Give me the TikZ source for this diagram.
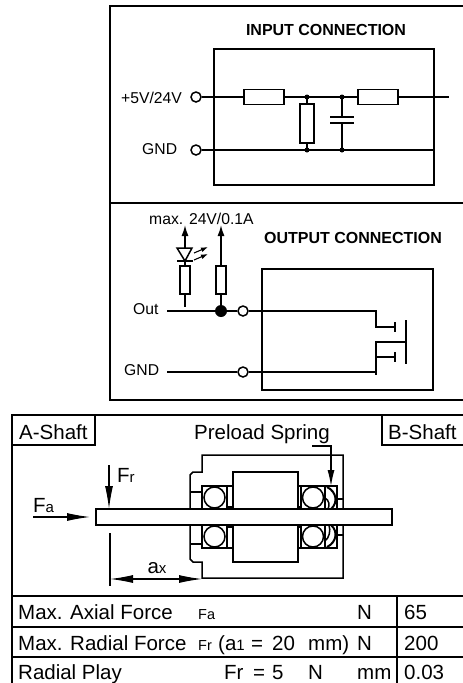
\documentclass[tikz,border=0pt]{standalone}
\usepackage{fontspec}
\setmainfont{Liberation Sans}
\usetikzlibrary{arrows.meta}
\newcommand{\fsz}[1]{\fontsize{#1}{#1}\selectfont}
\newcommand{\ballbearing}[3] % x left, y top, width
{
	% outer box
	\draw[wire] (#1,#2) rectangle (#1+#3,#2+23);
	% ball
	\draw[wire] (#1+0.5*#3,#2+11.5) circle (10.5);
}
\tikzset{
	wire/.style={line width=1.5pt},
	frame/.style={line width=1.9pt},
	thin wire/.style={line width=1.1pt},
	resh/.style={draw, line width=1.5pt, minimum width=40pt, minimum height=15pt, inner sep=0pt},
	resv/.style={draw, line width=1.5pt, minimum width=14pt, minimum height=39pt, inner sep=0pt},
	resn/.style={draw, line width=1.5pt, minimum width=10pt, minimum height=28pt, inner sep=0pt},
	term/.style={circle, draw, fill=white, line width=1.5pt, minimum size=10pt, inner sep=0pt},
	junction/.style={circle, fill=black, minimum size=5pt, inner sep=0pt},
	label/.style={inner sep=0pt, anchor=west, text height=11.2pt, text depth=0pt, font=\fsz{15.7}},
	title/.style={inner sep=0pt, text height=11.5pt, text depth=0pt, font=\fsz{16}\bfseries},
	big/.style={inner sep=0pt, anchor=west, text height=14.7pt, text depth=0pt, font=\fsz{20.5}},
	longhead/.style={-{Latex[length=23pt,width=8pt]}},
	smallhead/.style={-{Latex[length=11pt,width=7pt]}}
}
\begin{document}
\begin{tikzpicture}[x=1pt,y=-1pt]
	\useasboundingbox (0,0) rectangle (463,683);

	% upper panel
	\draw[frame] (463,6) -- (110,6) -- (110,400) -- (463,400);
	\draw[frame] (110,203) -- (463,203);

	% input connection
	\node[title] (intitle) at (326,30) {INPUT CONNECTION};
	\draw[frame] (214,49) rectangle (434,185);
	\node[label] (inlabel) at (121,98) {+5V/24V};
	\node[label] (ingnd) at (142,149) {GND};
	\node[term] (inp) at (196,97) {};
	\node[term] (gndp) at (196,150) {};
	\node[resh] (ra) at (264,97) {};
	\node[resh] (rc) at (378,97) {};
	\node[resv] (rb) at (307,123.5) {};
	\coordinate (ja) at (307,97);
	\coordinate (jb) at (342,97);
	\coordinate (jc) at (307,150);
	\coordinate (jd) at (342,150);
	\coordinate (inend) at (449,97);
	\coordinate (gndend) at (434,150);
	\draw[wire] (inp) -- (ra);
	\draw[wire] (ra) -- (rc);
	\draw[wire] (rc) -- (inend);
	\draw[wire] (gndp) -- (gndend);
	\draw[wire] (ja) -- (rb);
	\draw[wire] (rb) -- (jc);
	\draw[wire] (jb) -- (342,117);
	\draw[wire] (342,123) -- (jd);
	\draw[wire] (330,117) -- (354,117);
	\draw[wire] (330,123) -- (354,123);
	\foreach \j in {ja,jb,jc,jd}
		\node[junction] at (\j) {};

	% output connection
	\node[title] (outtitle) at (353,238) {OUTPUT CONNECTION};
	\node[label] (maxlabel) at (149,219) {max. 24V/0.1A};
	\draw[frame] (262,269) rectangle (433,390);
	\node[label] (outlabel) at (133,309) {Out};
	\node[label] (outgnd) at (124,370) {GND};
	\node[resn] (rled) at (185,280) {};
	\node[resn] (rload) at (221,280) {};
	\node[term] (outp) at (243,311) {};
	\node[term] (gndq) at (243,372) {};
	\node[circle, fill=black, minimum size=12pt, inner sep=0pt] (jout) at (221,311) {};
	\coordinate (outstart) at (167,311);
	\coordinate (gndstart) at (167,372);
	\draw[wire] (outstart) -- (jout);
	\draw[wire] (jout) -- (outp);
	\draw[wire] (outp) -- (376,311) -- (376,327) -- (395,327);
	\draw[wire] (gndstart) -- (gndq);
	\draw[wire] (gndq) -- (376,372);
	\draw[wire] (rload) -- (jout);
	\draw[wire] (rled) -- (185,307);
	\draw[wire, smallhead] (rload) -- (221,225);
	\draw[wire, smallhead] (185,248) -- (185,225);
	% led
	\draw[wire] (177,248) -- (192,248) -- (185,261) -- cycle;
	\draw[wire] (177,261) -- (193,261);
	\draw[wire] (185,261) -- (rled);
	\draw[thin wire, -{Latex[length=7pt,width=5pt]}] (194,253) -- (208,247);
	\draw[thin wire, -{Latex[length=7pt,width=5pt]}] (194,260) -- (208,254);
	% transistor
	\draw[wire] (395,322) -- (395,332);
	\draw[wire] (395,352) -- (395,362);
	\draw[wire] (406,320) -- (406,364);
	\draw[wire] (406,342) -- (376,342) -- (376,375);
	\draw[wire] (376,357) -- (395,357);

	% lower panel
	\draw[frame] (463,415) -- (12,415) -- (12,683);
	\draw[frame] (95,415) -- (95,445) -- (12,445);
	\draw[frame] (382,415) -- (382,445) -- (463,445);
	\node[big] (ashaft) at (19,432) {A-Shaft};
	\node[big] (bshaft) at (388,432) {B-Shaft};
	\node[big] (spring) at (194,432) {Preload Spring};
	\draw[thin wire, -{Latex[length=16pt,width=7pt]}] (312,446) -- (331,446) -- (331,486);

	% housing
	\draw[wire] (343,509) -- (343,455) -- (202,455) -- (202,472) -- (193,472) -- (190,475) -- (190,509);
	\draw[wire] (343,525) -- (343,578) -- (202,578) -- (202,562) -- (193,562) -- (190,559) -- (190,525);
	\draw[wire] (227,507) -- (233,507) -- (233,472) -- (298,472) -- (298,507) -- (301,507);
	\draw[wire] (227,527) -- (233,527) -- (233,562) -- (298,562) -- (298,527) -- (301,527);
	\draw[wire] (190,492) -- (202,492);
	\draw[wire] (190,544) -- (202,544);
	\draw[wire] (337,499) -- (343,499);
	\draw[wire] (337,535) -- (343,535);

	% bearings
	\ballbearing{202}{486}{25}
	\ballbearing{202}{525}{25}
	\ballbearing{301}{486}{24}
	\ballbearing{301}{525}{24}
	\draw[wire] (227,486) -- (233,486);
	\draw[wire] (227,548) -- (233,548);
	\draw[wire] (298,486) -- (301,486);
	\draw[wire] (298,548) -- (301,548);

	% spring
	\draw[wire] (325,486) rectangle (337,509);
	\draw[wire] (325,525) rectangle (337,548);
	\draw[line width=2pt] (327,487) .. controls (337,492) and (338,503) .. (331,509);
	\draw[wire] (325,498) .. controls (329,500) and (330,505) .. (328,509);
	\draw[line width=2pt] (331,525) .. controls (338,531) and (337,542) .. (327,547);
	\draw[wire] (325,541) .. controls (329,538) and (331,531) .. (329,525);

	% shaft
	\draw[frame, fill=white] (96,509) rectangle (392,525);

	% forces
	\node[big] (frlabel) at (117,475) {F\fsz{15}r};
	\node[big] (falabel) at (33,505) {F\fsz{15}a};
	\draw[thin wire, longhead] (109,465) -- (109,509);
	\draw[thin wire, longhead] (33,517) -- (90,517);
	\draw[thin wire] (110,533) -- (110,586);
	\draw[thin wire, {Latex[length=23pt,width=8pt]}-{Latex[length=23pt,width=8pt]}] (110,579) -- (202,579);
	\node[big, anchor=center] (axlabel) at (157,566) {a\fsz{15}x};

	% table
	\draw[frame] (12,596) -- (463,596);
	\draw[frame] (12,627) -- (463,627);
	\draw[frame] (12,657) -- (463,657);
	\draw[frame] (397,596) -- (397,683);
	\node[big] (axial) at (18,612) {Max. Axial Force};
	\node[big, font=\fsz{14.5}] (axialf) at (198,612) {Fa};
	\node[big] (axialn) at (357,612) {N};
	\node[big] (axialv) at (404,612) {65};
	\node[big] (radial) at (18,643) {Max. Radial Force};
	\node[big, font=\fsz{14.5}] (radialf) at (198,643) {Fr};
	\node[big] (radiala) at (218,643) {(a\fsz{15}1};
	\node[big] (radiale) at (251,643) {=};
	\node[big] (radialt) at (272,643) {20};
	\node[big] (radialm) at (308,643) {mm)};
	\node[big] (radialn) at (357,643) {N};
	\node[big] (radialv) at (404,643) {200};
	\node[big] (play) at (18,672) {Radial Play};
	\node[big] (playf) at (224,672) {Fr};
	\node[big] (playe) at (253,672) {=};
	\node[big] (playt) at (272,672) {5};
	\node[big] (playn) at (308,672) {N};
	\node[big] (playm) at (357,672) {mm};
	\node[big] (playv) at (404,672) {0.03};
\end{tikzpicture}
\end{document}
